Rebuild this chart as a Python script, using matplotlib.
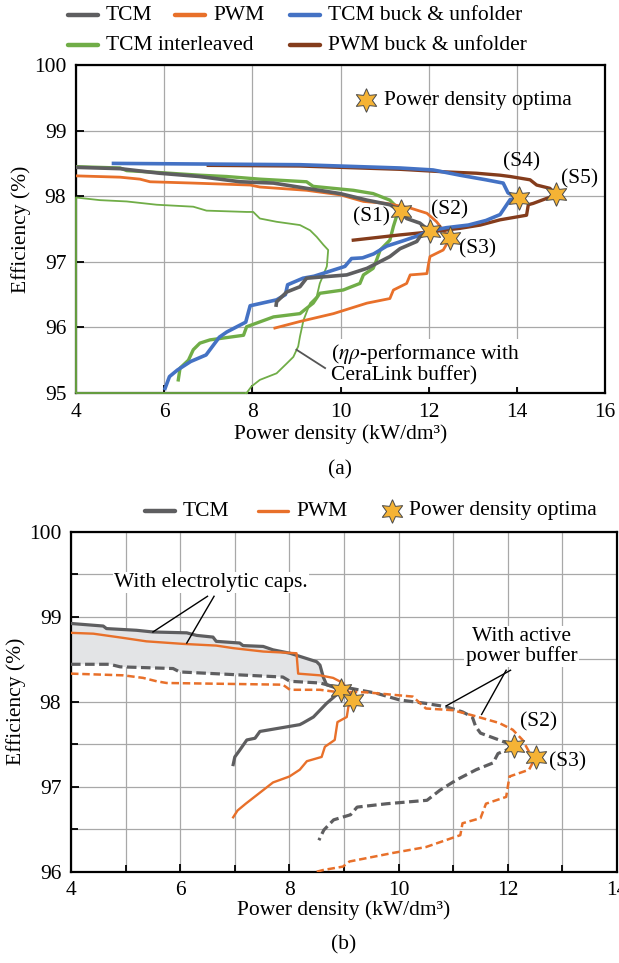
import matplotlib
matplotlib.use("Agg")
import matplotlib.pyplot as plt
from matplotlib.lines import Line2D
from matplotlib.ticker import MultipleLocator

plt.rcParams["font.family"] = ["Liberation Serif", "DejaVu Serif"]
plt.rcParams["mathtext.fontset"] = "stix"
plt.rcParams["font.size"] = 15.5

GRAY = "#5e5e60"
ORANGE = "#e8702a"
BLUE = "#4472c4"
GREEN = "#70ad47"
BROWN = "#843c1c"
STAR = "#f5b335"

# ---- (a) eta-rho Pareto fronts ----
tcm_x = [4.0, 5.0, 5.9, 6.8, 7.72, 8.48, 9.23, 9.99, 10.6, 11.12, 11.37, 11.5, 11.8, 12.02,
         11.8, 11.73, 11.35, 11.12, 10.6, 10.14, 9.23, 9.08, 8.78, 8.55, 8.54]
tcm_y = [98.44, 98.42, 98.35, 98.3, 98.22, 98.2, 98.12, 98.04, 97.94, 97.87, 97.77, 97.66, 97.59, 97.47,
         97.38, 97.31, 97.2, 97.08, 96.9, 96.8, 96.75, 96.62, 96.54, 96.39, 96.34]

pwm_x = [4.0, 5.0, 5.45, 5.68, 6.66, 7.95, 8.17, 9.23, 10.0, 10.52, 11.05, 11.58, 11.96, 12.18,
         12.33, 12.48, 12.4, 12.33, 12.03, 12.0, 11.96, 11.58, 11.5, 11.2, 11.12, 10.6, 9.84, 9.08, 8.51]
pwm_y = [98.31, 98.29, 98.26, 98.22, 98.2, 98.17, 98.14, 98.09, 98.02, 97.92, 97.89, 97.82, 97.74, 97.61,
         97.48, 97.36, 97.26, 97.18, 97.08, 96.98, 96.82, 96.8, 96.67, 96.57, 96.44, 96.37, 96.21, 96.09, 95.99]

buck_tcm_x = [4.85, 7.0, 9.08, 11.35, 12.1, 12.71, 13.3, 13.69, 13.8, 14.03, 13.85, 13.75, 13.62,
              13.3, 12.9, 12.4, 12.0, 11.73, 11.42, 11.05, 10.75, 10.5, 10.25, 10.1, 9.4, 9.15, 8.8,
              8.75, 8.55, 7.95, 7.85, 7.42, 7.25, 6.95, 6.6, 6.3, 6.12, 6.02]
buck_tcm_y = [98.50, 98.49, 98.48, 98.43, 98.40, 98.32, 98.25, 98.2, 98.05, 97.97, 97.95, 97.85, 97.72,
              97.63, 97.56, 97.52, 97.47, 97.39, 97.32, 97.24, 97.12, 97.06, 97.05, 96.93, 96.78, 96.75, 96.65,
              96.5, 96.42, 96.33, 96.08, 95.93, 95.85, 95.58, 95.48, 95.35, 95.25, 95.07]

buck_pwm_x = [7.0, 9.08, 11.35, 12.4, 13.09, 13.62, 13.85, 14.3, 14.45, 14.75, 14.89, 14.37, 14.26,
              14.22, 13.62, 13.17, 12.71, 12.1, 11.35, 10.82, 10.29]
buck_pwm_y = [98.47, 98.46, 98.41, 98.37, 98.35, 98.32, 98.30, 98.25, 98.17, 98.12, 98.02, 97.89, 97.87,
              97.71, 97.64, 97.56, 97.51, 97.46, 97.41, 97.37, 97.33]

il_x = [4.0, 5.0, 5.15, 5.9, 6.81, 7.42, 8.17, 9.23, 9.38, 10.29, 10.74, 11.12, 11.37, 11.27, 11.2,
        11.12, 10.9, 10.82, 10.74, 10.52, 10.44, 10.06, 9.53, 9.38, 9.19, 9.08, 8.48, 7.87, 7.8, 7.04,
        6.81, 6.66, 6.55, 6.36, 6.32]
il_y = [98.45, 98.43, 98.39, 98.36, 98.32, 98.3, 98.26, 98.22, 98.15, 98.09, 98.04, 97.94, 97.77, 97.69, 97.54,
        97.33, 97.18, 97.03, 96.9, 96.8, 96.67, 96.57, 96.52, 96.37, 96.27, 96.21, 96.16, 96.01, 95.88, 95.81,
        95.76, 95.66, 95.5, 95.38, 95.2]

ceralink_x = [7.87, 4.0, 4.0, 4.54, 5.15, 5.83, 6.66, 6.96, 7.87, 8.02, 8.17, 8.55, 9.08, 9.31, 9.46,
              9.61, 9.72, 9.69, 9.53, 9.46, 9.31, 9.16, 9.08, 9.04, 8.93, 8.78, 8.55, 8.17, 7.98, 7.87]
ceralink_y = [95.0, 95.0, 97.98, 97.94, 97.92, 97.87, 97.84, 97.78, 97.76, 97.76, 97.66, 97.61, 97.56, 97.48,
              97.38, 97.26, 97.18, 96.93, 96.67, 96.47, 96.37, 96.11, 95.86, 95.71, 95.55, 95.45, 95.3, 95.2,
              95.1, 95.0]

opt_x = [11.37, 12.02, 12.48, 14.05, 14.88]
opt_y = [97.78, 97.47, 97.36, 97.98, 98.03]
opt_labels = ["(S1)", "(S2)", "(S3)", "(S4)", "(S5)"]
opt_label_pos = [(10.7, 97.68), (12.48, 97.79), (13.1, 97.2), (14.1, 98.52), (15.43, 98.26)]

# ---- (b) electrolytic caps vs. active power buffer ----
tcm_e_x = [4.0, 4.59, 4.65, 5.2, 5.5, 6.12, 6.3, 6.6, 6.66, 7.09, 7.15, 7.52, 7.7, 8.01, 8.5, 8.56,
           8.62, 8.68, 8.86, 8.95, 8.86, 8.68, 8.56, 8.44, 8.25, 8.19, 7.46, 7.37, 7.22, 7.09, 7.0, 6.97]
tcm_e_y = [98.92, 98.89, 98.86, 98.84, 98.82, 98.81, 98.78, 98.76, 98.71, 98.69, 98.66, 98.65, 98.61, 98.57,
           98.47, 98.43, 98.29, 98.2, 98.16, 98.14, 98.08, 97.98, 97.9, 97.82, 97.75, 97.73, 97.65, 97.57,
           97.55, 97.43, 97.35, 97.26]

pwm_e_x = [4.0, 4.41, 4.96, 5.38, 6.05, 6.66, 6.97, 7.52, 8.13, 8.16, 8.56, 8.8, 8.98, 9.17, 9.08,
           9.05, 8.88, 8.83, 8.65, 8.59, 8.32, 8.19, 8.0, 7.7, 7.5, 7.2, 7.05, 6.97]
pwm_e_y = [98.81, 98.8, 98.75, 98.71, 98.68, 98.66, 98.63, 98.59, 98.57, 98.33, 98.31, 98.28, 98.22, 98.03,
           97.94, 97.82, 97.76, 97.55, 97.47, 97.35, 97.3, 97.2, 97.12, 97.05, 96.95, 96.8, 96.72, 96.64]

tcm_a_x = [4.0, 4.71, 4.9, 5.87, 5.99, 7.88, 8.01, 8.56, 8.86, 9.1, 9.59, 10.02, 10.5, 10.87, 11.17,
           11.35, 11.41, 11.5, 11.84, 12.12, 11.97, 11.82, 11.73, 11.42, 11.06, 10.76, 10.52, 9.79, 9.24,
           9.12, 8.81, 8.63, 8.54]
tcm_a_y = [98.44, 98.44, 98.41, 98.39, 98.35, 98.29, 98.24, 98.22, 98.17, 98.16, 98.1, 98.02, 97.98, 97.94,
           97.88, 97.82, 97.71, 97.63, 97.55, 97.48, 97.43, 97.39, 97.28, 97.2, 97.08, 96.96, 96.84, 96.8,
           96.76, 96.67, 96.61, 96.49, 96.37]

pwm_a_x = [4.0, 4.96, 5.32, 5.57, 5.75, 7.88, 8.01, 8.56, 8.8, 9.41, 10.26, 10.5, 10.99, 11.35, 11.84,
           12.09, 12.27, 12.39, 12.51, 12.39, 12.03, 11.97, 11.6, 11.5, 11.17, 11.13, 10.5, 9.89, 9.1, 8.98,
           8.62, 8.5]
pwm_a_y = [98.33, 98.31, 98.28, 98.24, 98.22, 98.2, 98.14, 98.14, 98.12, 98.11, 98.06, 97.92, 97.9, 97.84,
           97.75, 97.67, 97.55, 97.41, 97.35, 97.2, 97.12, 96.88, 96.8, 96.63, 96.57, 96.43, 96.29, 96.22,
           96.12, 96.06, 96.02, 96.0]

b_opt_x = [8.95, 9.17, 12.12, 12.51]
b_opt_y = [98.14, 98.02, 97.48, 97.35]
b_opt_labels = ["", "", "(S2)", "(S3)"]
b_opt_label_pos = [None, None, (12.57, 97.76), (13.1, 97.29)]

star_kw = dict(marker=(6, 1, 0), markersize=17, markerfacecolor=STAR,
               markeredgecolor="#4a4a4a", markeredgewidth=0.7, linestyle="none", zorder=6)
box = dict(facecolor="white", edgecolor="none", pad=1.0)


def style_axes(ax):
    for s in ax.spines.values():
        s.set_linewidth(1.6)
        s.set_color("black")
    ax.tick_params(which="both", direction="in", top=False, right=False, width=1.3, pad=7)
    ax.tick_params(which="major", length=6)
    ax.tick_params(which="minor", length=5)
    ax.grid(True, which="both", color="#a8a8a8", linewidth=0.9)
    ax.set_axisbelow(True)


def fig_line(px, py, color, lw):
    fy = 1 - py / 963
    fig.add_artist(Line2D([px / 619, (px + 30) / 619], [fy, fy], color=color, lw=lw,
                          solid_capstyle="round", transform=fig.transFigure))


fig = plt.figure(figsize=(6.19, 9.63), dpi=100)

# ---------------- (a) ----------------
ax = fig.add_axes([0.1228, 0.5919, 0.8546, 0.3406])
style_axes(ax)
ax.set_xlim(4, 16)
ax.set_ylim(95, 100)
ax.xaxis.set_major_locator(MultipleLocator(2))
ax.yaxis.set_major_locator(MultipleLocator(1))

ax.plot(ceralink_x, ceralink_y, color=GREEN, lw=1.3, zorder=3, clip_on=False)
ax.plot(il_x, il_y, color=GREEN, lw=2.4, zorder=4)
ax.plot(pwm_x, pwm_y, color=ORANGE, lw=2.0, zorder=4)
ax.plot(buck_pwm_x, buck_pwm_y, color=BROWN, lw=2.4, zorder=4)
ax.plot(buck_tcm_x, buck_tcm_y, color=BLUE, lw=2.6, zorder=4)
ax.plot(tcm_x, tcm_y, color=GRAY, lw=2.6, zorder=4)
ax.plot(opt_x, opt_y, **star_kw)
for lab, (lx, ly) in zip(opt_labels, opt_label_pos):
    ax.text(lx, ly, lab, ha="center", va="center", zorder=7)

ax.plot([9.0, 9.65], [95.66, 95.38], color="#555555", lw=1.3, zorder=5)
ax.text(9.78, 95.44, "($\\eta\\rho$-performance with\nCeraLink buffer)", ha="left", va="center",
        linespacing=1.0, bbox=box, zorder=5)

ax.set_xlabel("Power density (kW/dm³)", labelpad=2)
ax.set_ylabel("Efficiency (%)", labelpad=2)
fig.text(0.5 * (0.1228 + 0.977), 1 - 470 / 963, "(a)", ha="center", va="center")

fig.add_artist(Line2D([366 / 619], [1 - 100 / 963], transform=fig.transFigure, **star_kw))
fig.text(384 / 619, 1 - 100 / 963, "Power density optima", ha="left", va="center")

# legend on top, drawn in figure coordinates
top_items = [
    (68, 15, GRAY, "TCM"), (175, 15, ORANGE, "PWM"), (290, 15, BLUE, "TCM buck & unfolder"),
    (68, 45, GREEN, "TCM interleaved"), (290, 45, BROWN, "PWM buck & unfolder"),
]
for px, py, c, lab in top_items:
    fig_line(px, py, c, 3.2)
    fig.text((px + 38) / 619, 1 - py / 963, lab, ha="left", va="center")

# ---------------- (b) ----------------
bx = fig.add_axes([0.1147, 0.0948, 0.8821, 0.3531])
style_axes(bx)
bx.set_xlim(4, 14)
bx.set_ylim(96, 100)
bx.xaxis.set_major_locator(MultipleLocator(2))
bx.xaxis.set_minor_locator(MultipleLocator(1))
bx.yaxis.set_major_locator(MultipleLocator(1))
bx.yaxis.set_minor_locator(MultipleLocator(0.5))

n_up_e = tcm_e_x.index(8.95) + 1
n_up_a = 9
bx.fill(tcm_e_x[:n_up_e] + tcm_a_x[:n_up_a][::-1], tcm_e_y[:n_up_e] + tcm_a_y[:n_up_a][::-1],
        color="#e3e4e6", lw=0, zorder=2)

bx.plot(tcm_a_x, tcm_a_y, color=GRAY, lw=2.3, dashes=(3.0, 1.4), zorder=4)
bx.plot(pwm_a_x, pwm_a_y, color=ORANGE, lw=1.8, dashes=(3.0, 1.5), zorder=4)
bx.plot(tcm_e_x, tcm_e_y, color=GRAY, lw=2.3, zorder=4)
bx.plot(pwm_e_x, pwm_e_y, color=ORANGE, lw=1.7, zorder=4)
bx.plot(b_opt_x, b_opt_y, **star_kw)
for lab, pos in zip(b_opt_labels, b_opt_label_pos):
    if pos:
        bx.text(pos[0], pos[1], lab, ha="center", va="center", zorder=7)

bx.text(6.56, 99.4, "With electrolytic caps.", ha="center", va="center", bbox=box, zorder=5)
bx.plot([6.5, 5.5], [99.24, 98.82], color="black", lw=1.0, zorder=5)
bx.plot([6.62, 6.12], [99.24, 98.69], color="black", lw=1.0, zorder=5)

bx.text(12.25, 98.65, "With active\npower buffer", ha="center", va="center", linespacing=0.95,
        bbox=box, zorder=5)
bx.plot([12.05, 10.87], [98.37, 97.95], color="black", lw=1.0, zorder=5)
bx.plot([11.97, 11.52], [98.37, 97.85], color="black", lw=1.0, zorder=5)

bx.set_xlabel("Power density (kW/dm³)", labelpad=0)
bx.set_ylabel("Efficiency (%)", labelpad=2)
fig.text(0.5 * (0.1147 + 0.9968), 1 - 945 / 963, "(b)", ha="center", va="center")

for px, py, c, lab, w in [(145, 511, GRAY, "TCM", 3.2), (258, 511, ORANGE, "PWM", 2.4)]:
    fig_line(px, py, c, w)
    fig.text((px + 38) / 619, 1 - py / 963, lab, ha="left", va="center")
fig.add_artist(Line2D([392 / 619], [1 - 511 / 963], transform=fig.transFigure, **star_kw))
fig.text(409 / 619, 1 - 511 / 963, "Power density optima", ha="left", va="center")

fig.savefig("out.png", dpi=100)
